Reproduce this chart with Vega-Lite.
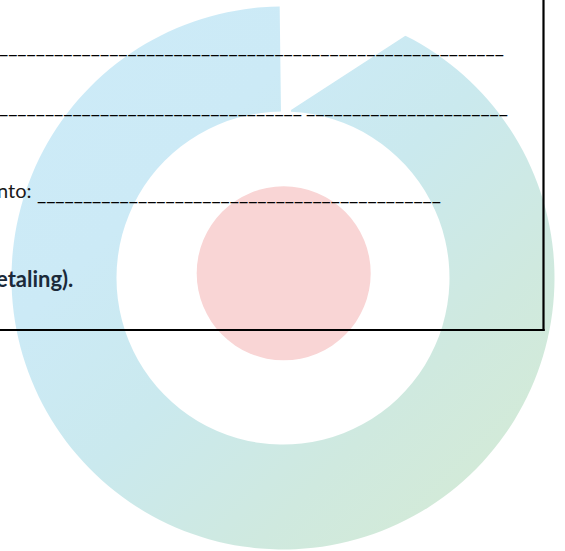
{
  "$schema": "https://vega.github.io/schema/vega-lite/v6.json",
  "width": 566,
  "height": 556,
  "autosize": {"type": "none"},
  "padding": 0,
  "background": "white",
  "config": {"view": {"stroke": null}},
  "layer": [
    {
      "data": {"values": [{"a0": 2.7, "a1": 359.3, "r0": 166.5, "r1": 271.5}]},
      "mark": {
        "type": "arc",
        "color": {
          "gradient": "linear", "x1": 0, "y1": 0, "x2": 1, "y2": 1,
          "stops": [
            {"offset": 0, "color": "#cdebf8"},
            {"offset": 0.3, "color": "#cceaf6"},
            {"offset": 0.5, "color": "#cae9ee"},
            {"offset": 0.72, "color": "#cfe9df"},
            {"offset": 1, "color": "#d6ebd2"}
          ]
        }
      },
      "encoding": {
        "theta": {"field": "a0", "type": "quantitative", "scale": {"domain": [0, 360], "range": [0, 6.283185]}},
        "theta2": {"field": "a1"},
        "radius": {"field": "r1", "type": "quantitative", "scale": {"type": "linear", "domain": [0, 300], "range": [0, 300], "zero": true}},
        "radius2": {"field": "r0"}
      }
    },
    {
      "data": {"values": [
        {"x": 288, "y": 116, "top": 0},
        {"x": 290.5, "y": 116, "top": 0},
        {"x": 291, "y": 110, "top": 0},
        {"x": 405, "y": 36, "top": 0},
        {"x": 460.5, "y": 0, "top": 0}
      ]},
      "mark": {"type": "area", "color": "white", "interpolate": "linear", "opacity": 1},
      "encoding": {
        "x": {"field": "x", "type": "quantitative", "scale": {"domain": [0, 566], "nice": false, "zero": false}, "axis": null},
        "y": {"field": "y", "type": "quantitative", "scale": {"domain": [0, 556], "nice": false, "zero": false, "reverse": true}, "axis": null},
        "y2": {"field": "top"}
      }
    },
    {
      "data": {"values": [{"x": 283.7, "y": 273.3}]},
      "mark": {"type": "point", "shape": "circle", "filled": true, "size": 30276, "color": "#f9d5d5", "opacity": 1, "strokeWidth": 0},
      "encoding": {
        "x": {"field": "x", "type": "quantitative", "scale": {"domain": [0, 566], "nice": false, "zero": false}, "axis": null},
        "y": {"field": "y", "type": "quantitative", "scale": {"domain": [0, 556], "nice": false, "zero": false, "reverse": true}, "axis": null}
      }
    },
    {
      "data": {"values": [
        {"x": -1, "y": 53, "t": "_______________________________________________________"},
        {"x": -1, "y": 113, "t": "_________________________________"},
        {"x": 306, "y": 113, "t": "______________________"},
        {"x": 37, "y": 200, "t": "____________________________________________"}
      ]},
      "mark": {"type": "text", "font": "Lato", "fontSize": 20, "align": "left", "baseline": "alphabetic", "color": "#000000"},
      "encoding": {
        "x": {"field": "x", "type": "quantitative", "scale": {"domain": [0, 566], "nice": false, "zero": false}, "axis": null},
        "y": {"field": "y", "type": "quantitative", "scale": {"domain": [0, 556], "nice": false, "zero": false, "reverse": true}, "axis": null},
        "text": {"field": "t"}
      }
    },
    {
      "data": {"values": [{"x": -3, "y": 198, "t": "nto:"}]},
      "mark": {"type": "text", "font": "Lato", "fontSize": 20, "align": "left", "baseline": "alphabetic", "color": "#1a1a1a"},
      "encoding": {
        "x": {"field": "x", "type": "quantitative", "scale": {"domain": [0, 566], "nice": false, "zero": false}, "axis": null},
        "y": {"field": "y", "type": "quantitative", "scale": {"domain": [0, 556], "nice": false, "zero": false, "reverse": true}, "axis": null},
        "text": {"field": "t"}
      }
    },
    {
      "data": {"values": [{"x": -4, "y": 287, "t": "etaling)."}]},
      "mark": {"type": "text", "font": "Lato", "fontSize": 22, "fontWeight": "bold", "align": "left", "baseline": "alphabetic", "color": "#1b2a3a"},
      "encoding": {
        "x": {"field": "x", "type": "quantitative", "scale": {"domain": [0, 566], "nice": false, "zero": false}, "axis": null},
        "y": {"field": "y", "type": "quantitative", "scale": {"domain": [0, 556], "nice": false, "zero": false, "reverse": true}, "axis": null},
        "text": {"field": "t"}
      }
    },
    {
      "data": {"values": [
        {"x": 543.5, "y": -2, "x2": 543.5, "y2": 331},
        {"x": -2, "y": 330, "x2": 544.6, "y2": 330}
      ]},
      "mark": {"type": "rule", "color": "#000000", "strokeWidth": 2.2},
      "encoding": {
        "x": {"field": "x", "type": "quantitative", "scale": {"domain": [0, 566], "nice": false, "zero": false}, "axis": null},
        "y": {"field": "y", "type": "quantitative", "scale": {"domain": [0, 556], "nice": false, "zero": false, "reverse": true}, "axis": null},
        "x2": {"field": "x2"},
        "y2": {"field": "y2"}
      }
    }
  ]
}
